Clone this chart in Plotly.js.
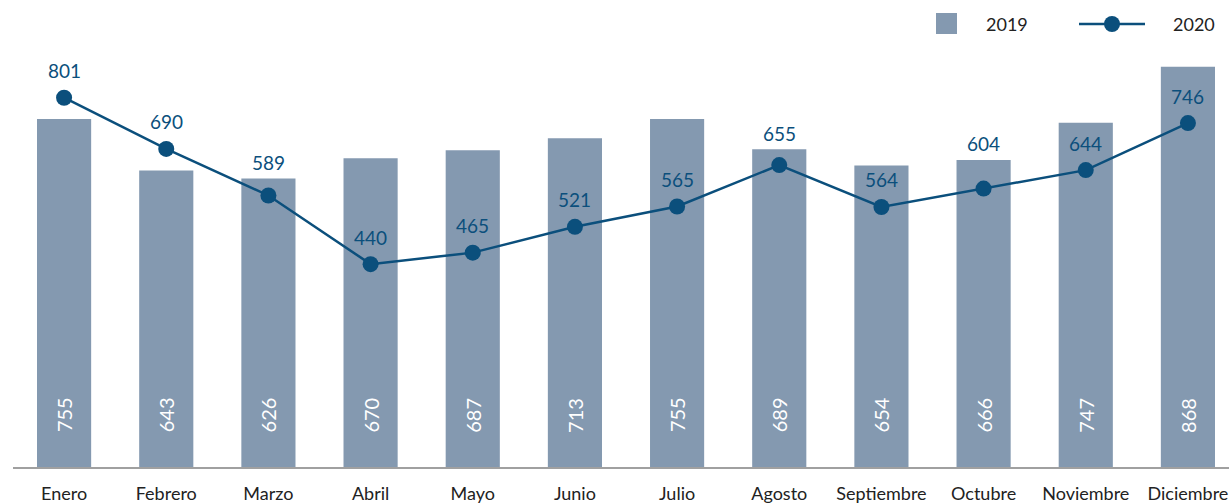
<!DOCTYPE html>
<html><head><meta charset="utf-8">
<script src="https://cdn.plot.ly/plotly-3.0.1.min.js"></script>
<style>html,body{margin:0;padding:0;background:#fff}</style>
</head><body><div id="chart" style="width:1229px;height:504px"></div>
<script>
const months = ["Enero","Febrero","Marzo","Abril","Mayo","Junio","Julio","Agosto","Septiembre","Octubre","Noviembre","Diciembre"];
const values2019 = [755,643,626,670,687,713,755,689,654,666,747,868];
const values2020 = [801,690,589,440,465,521,565,655,564,604,644,746];
const seriesNames = ["2019","2020"];

const barColor = "#8499b0";
const lineColor = "#0b4f7c";
const FONT = "Lato, sans-serif";

// plot-area geometry (pixels) used for the custom legend placement
const W = 1229, H = 504, L = 13, R = 0, T = 0, B = 37;
const px = x => (x - L) / (W - L - R);
const py = y => (H - B - y) / (H - T - B);

const bars = {
  type: "bar", x: months, y: values2019, name: seriesNames[0],
  marker: {color: barColor}, width: 0.53, hoverinfo: "skip", showlegend: false
};
const line = {
  type: "scatter", mode: "lines+markers", x: months, y: values2020, name: seriesNames[1],
  line: {color: lineColor, width: 2.5},
  marker: {color: lineColor, size: 16},
  cliponaxis: false, showlegend: false
};

// 2019 values: white, rotated, near the bottom of each bar
const barLabels = months.map((m, i) => ({
  x: m, y: 0, xref: "x", yref: "y", text: String(values2019[i]),
  textangle: -90, showarrow: false, yshift: 52,
  font: {family: FONT, size: 20, color: "#ffffff"}
}));
// 2020 values: above the marker, or above the bar top when the bar top sits just above the marker
const lineLabels = months.map((m, i) => {
  const v = values2020[i], b = values2019[i];
  const overBar = b > v && b - v < 70;
  return {
    x: m, y: overBar ? b : v, xref: "x", yref: "y", text: String(v),
    showarrow: false, yshift: overBar ? 16 : 27,
    font: {family: FONT, size: 19, color: lineColor}
  };
});
// custom legend
const legendText = [
  {x: px(984), y: py(24), xref: "paper", yref: "paper", xanchor: "left", yanchor: "middle",
   text: seriesNames[0], showarrow: false, font: {family: FONT, size: 18, color: "#222"}},
  {x: px(1171), y: py(24), xref: "paper", yref: "paper", xanchor: "left", yanchor: "middle",
   text: seriesNames[1], showarrow: false, font: {family: FONT, size: 18, color: "#222"}}
];
const shapes = [
  {type: "rect", xref: "paper", yref: "paper", x0: px(936), x1: px(957), y0: py(34), y1: py(13),
   fillcolor: barColor, line: {width: 0}},
  {type: "line", xref: "paper", yref: "paper", x0: px(1079), x1: px(1145), y0: py(24), y1: py(24),
   line: {color: lineColor, width: 2.5}},
  {type: "circle", xref: "paper", yref: "paper", x0: px(1104), x1: px(1120), y0: py(32), y1: py(16),
   fillcolor: lineColor, line: {width: 0}}
];

Plotly.newPlot("chart", [bars, line], {
  width: W, height: H,
  margin: {l: L, r: R, t: T, b: B},
  paper_bgcolor: "#fff", plot_bgcolor: "#fff",
  font: {family: FONT, size: 18, color: "#222"},
  showlegend: false,
  xaxis: {type: "category", range: [-0.5, 11.402], showline: true, linecolor: "#a0a0a0", linewidth: 2,
          showgrid: false, ticks: "", ticklabelstandoff: 9, tickfont: {family: FONT, size: 18, color: "#222"}},
  yaxis: {range: [0, 1013], visible: false, showgrid: false, zeroline: false},
  annotations: barLabels.concat(lineLabels, legendText),
  shapes: shapes
}, {displayModeBar: false, staticPlot: true});
</script></body></html>
